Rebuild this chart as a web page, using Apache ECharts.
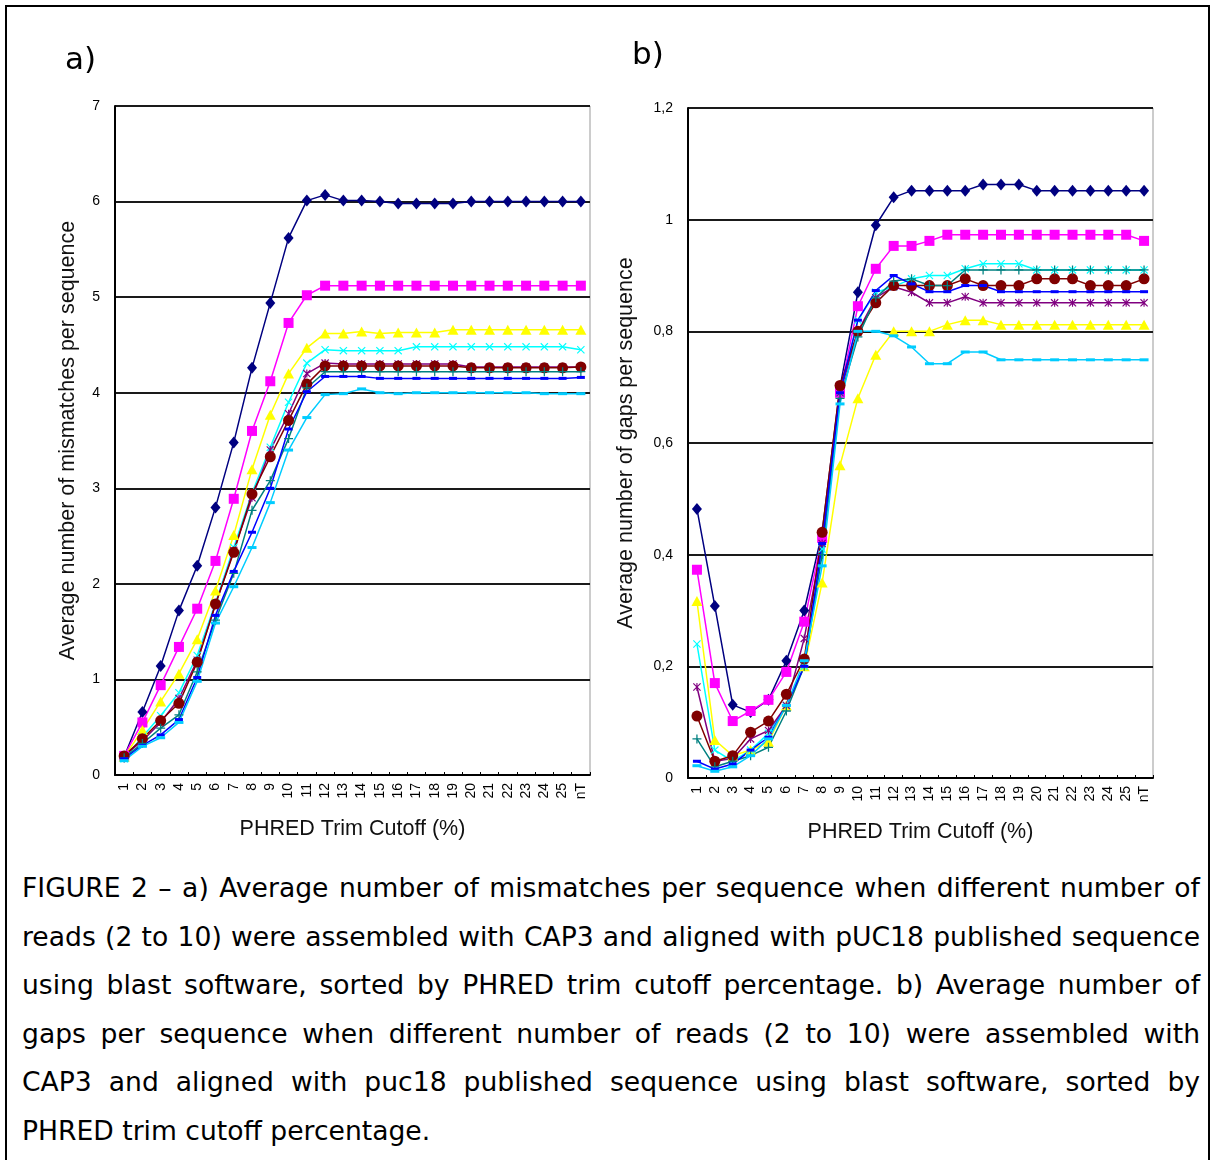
<!DOCTYPE html>
<html>
<head>
<meta charset="utf-8">
<script src="https://cdn.jsdelivr.net/npm/echarts@6/dist/echarts.min.js"></script>
<style>
  html, body { margin: 0; padding: 0; background: #fff; }
  #frame { position: absolute; left: 5px; top: 5px; width: 1201px; height: 1200px; border: 2px solid #000; }
  #chart { position: absolute; left: 0; top: 0; width: 1211px; height: 860px; }
  #caption { position: absolute; left: 22px; top: 864px; width: 1178px;
             font-family: "DejaVu Sans", Verdana, sans-serif; font-size: 26.6px; color: #000; }
  #caption .ln { height: 48.5px; line-height: 48.5px; white-space: nowrap;
                 text-align: justify; text-align-last: justify; }
  #caption .ln.last { text-align: left; text-align-last: left; }
</style>
</head>
<body>
<div id="frame"></div>
<div id="chart"></div>
<div id="caption">
  <div class="ln">FIGURE 2 – a) Average number of mismatches per sequence when different number of</div>
  <div class="ln">reads (2 to 10) were assembled with CAP3 and aligned with pUC18 published sequence</div>
  <div class="ln">using blast software, sorted by PHRED trim cutoff percentage. b) Average number of</div>
  <div class="ln">gaps per sequence when different number of reads (2 to 10) were assembled with</div>
  <div class="ln">CAP3 and aligned with puc18 published sequence using blast software, sorted by</div>
  <div class="ln last">PHRED trim cutoff percentage.</div>
</div>
<script>
// PHRED trim cutoff categories
const cutoffs = ['1','2','3','4','5','6','7','8','9','10','11','12','13','14','15','16','17','18','19','20','21','22','23','24','25','nT'];

// a) average mismatches per sequence, one series per read count
const mismA1 = [0.19,0.66,1.14,1.72,2.19,2.80,3.48,4.26,4.94,5.62,6.01,6.07,6.01,6.01,6.00,5.98,5.98,5.98,5.98,6.00,6.00,6.00,6.00,6.00,6.00,6.00];
const mismA2 = [0.20,0.55,0.94,1.34,1.74,2.24,2.89,3.60,4.12,4.73,5.02,5.12,5.12,5.12,5.12,5.12,5.12,5.12,5.12,5.12,5.12,5.12,5.12,5.12,5.12,5.12];
const mismA3 = [0.19,0.47,0.77,1.06,1.42,1.93,2.51,3.20,3.77,4.20,4.47,4.62,4.62,4.64,4.62,4.63,4.63,4.63,4.66,4.66,4.66,4.66,4.66,4.66,4.66,4.66];
const mismA4 = [0.17,0.40,0.62,0.86,1.25,1.80,2.38,2.95,3.43,3.90,4.31,4.45,4.44,4.44,4.44,4.44,4.48,4.48,4.48,4.48,4.48,4.48,4.48,4.48,4.48,4.45];
const mismA5 = [0.20,0.36,0.55,0.80,1.20,1.78,2.35,2.90,3.40,3.78,4.20,4.31,4.30,4.30,4.30,4.30,4.30,4.30,4.30,4.27,4.27,4.27,4.27,4.27,4.27,4.27];
const mismA6 = [0.20,0.38,0.57,0.75,1.18,1.79,2.33,2.94,3.33,3.71,4.09,4.28,4.28,4.28,4.28,4.28,4.28,4.28,4.28,4.26,4.26,4.26,4.26,4.26,4.26,4.27];
const mismA7 = [0.18,0.33,0.49,0.63,1.08,1.62,2.11,2.77,3.08,3.52,4.05,4.22,4.22,4.22,4.22,4.22,4.22,4.22,4.22,4.22,4.22,4.22,4.22,4.22,4.22,4.22];
const mismA8 = [0.17,0.31,0.42,0.58,1.02,1.67,2.13,2.54,3.00,3.62,4.01,4.17,4.17,4.17,4.15,4.15,4.15,4.15,4.15,4.15,4.15,4.15,4.15,4.15,4.15,4.16];
const mismA9 = [0.15,0.30,0.39,0.55,0.98,1.59,1.97,2.38,2.85,3.40,3.74,3.98,3.99,4.04,4.00,3.99,4.00,4.00,4.00,4.00,4.00,4.00,4.00,3.99,3.99,3.99];

// b) average gaps per sequence
const gapsB1 = [0.482,0.308,0.131,0.118,0.140,0.210,0.300,0.440,0.700,0.870,0.990,1.040,1.052,1.052,1.052,1.052,1.063,1.063,1.063,1.052,1.052,1.052,1.052,1.052,1.052,1.052];
const gapsB2 = [0.373,0.170,0.102,0.120,0.140,0.190,0.280,0.430,0.690,0.845,0.912,0.953,0.953,0.962,0.973,0.973,0.973,0.973,0.973,0.973,0.973,0.973,0.973,0.973,0.973,0.962];
const gapsB3 = [0.317,0.068,0.040,0.050,0.065,0.130,0.200,0.350,0.560,0.680,0.758,0.800,0.800,0.800,0.812,0.820,0.820,0.812,0.812,0.812,0.812,0.812,0.812,0.812,0.812,0.812];
const gapsB4 = [0.240,0.050,0.030,0.050,0.080,0.130,0.200,0.410,0.690,0.820,0.870,0.880,0.894,0.900,0.900,0.912,0.921,0.921,0.921,0.910,0.910,0.910,0.910,0.910,0.910,0.910];
const gapsB5 = [0.163,0.030,0.035,0.070,0.085,0.130,0.250,0.420,0.690,0.800,0.860,0.880,0.870,0.851,0.851,0.862,0.851,0.851,0.851,0.851,0.851,0.851,0.851,0.851,0.851,0.851];
const gapsB6 = [0.111,0.030,0.040,0.082,0.102,0.150,0.213,0.440,0.703,0.800,0.851,0.882,0.882,0.882,0.882,0.894,0.882,0.882,0.882,0.894,0.894,0.894,0.882,0.882,0.882,0.894];
const gapsB7 = [0.070,0.020,0.030,0.040,0.055,0.120,0.200,0.400,0.680,0.790,0.860,0.890,0.894,0.882,0.882,0.910,0.910,0.910,0.910,0.910,0.910,0.910,0.910,0.910,0.910,0.910];
const gapsB8 = [0.030,0.016,0.025,0.050,0.073,0.130,0.200,0.420,0.690,0.820,0.873,0.900,0.885,0.871,0.871,0.882,0.882,0.871,0.871,0.871,0.871,0.871,0.871,0.871,0.871,0.871];
const gapsB9 = [0.022,0.012,0.020,0.040,0.070,0.130,0.210,0.380,0.670,0.800,0.800,0.792,0.772,0.742,0.742,0.763,0.763,0.749,0.749,0.749,0.749,0.749,0.749,0.749,0.749,0.749];

// marker shapes
const SYM_X = 'path://M0,1L1,0L5,4L9,0L10,1L6,5L10,9L9,10L5,6L1,10L0,9L4,5Z';
const SYM_STAR = 'path://M0,1L1,0L5,4L9,0L10,1L6,5L10,9L9,10L5,6L1,10L0,9L4,5Z M4.3,0H5.7V10H4.3Z';
const SYM_PLUS = 'path://M4.3,0H5.7V4.3H10V5.7H5.7V10H4.3V5.7H0V4.3H4.3Z';

const styles = [
  { color: '#000080', symbol: 'diamond',  size: [10, 12] },
  { color: '#FF00FF', symbol: 'rect',     size: [10, 10] },
  { color: '#FFFF00', symbol: 'triangle', size: [11, 10] },
  { color: '#00FFFF', symbol: SYM_X,      size: [8, 8] },
  { color: '#800080', symbol: SYM_STAR,   size: [8, 8] },
  { color: '#800000', symbol: 'circle',   size: [11, 11] },
  { color: '#008080', symbol: SYM_PLUS,   size: [9, 9] },
  { color: '#0000FF', symbol: 'rect',     size: [8, 3] },
  { color: '#00CCFF', symbol: 'rect',     size: [9, 3] }
];

const seriesA = [mismA1, mismA2, mismA3, mismA4, mismA5, mismA6, mismA7, mismA8, mismA9];
const seriesB = [gapsB1, gapsB2, gapsB3, gapsB4, gapsB5, gapsB6, gapsB7, gapsB8, gapsB9];

const tickFont = { fontFamily: 'Liberation Sans, Arial, sans-serif', fontSize: 14, color: '#000' };
const nameFont = { fontFamily: 'Liberation Sans, Arial, sans-serif', fontSize: 21.5, color: '#111' };

function xAxisFor(gridIndex) {
  return {
    type: 'category', gridIndex, data: cutoffs, boundaryGap: true,
    axisLine: { lineStyle: { color: '#000', width: 2 } },
    axisTick: { show: true, inside: true, length: 3, lineStyle: { color: '#000', width: 1 } },
    axisLabel: Object.assign({ rotate: 90, interval: 0, margin: 8 }, tickFont),
    name: 'PHRED Trim Cutoff (%)', nameLocation: 'middle', nameGap: 43, nameTextStyle: nameFont
  };
}

function yAxisFor(gridIndex, max, interval, fmt, title, gap) {
  return {
    type: 'value', gridIndex, min: 0, max, interval,
    axisLine: { show: true, lineStyle: { color: '#000', width: 2 } },
    axisTick: { show: false },
    axisLabel: Object.assign({ margin: 15, formatter: fmt }, tickFont),
    splitLine: { show: true, lineStyle: { color: '#1a1a1a', width: 2 } },
    name: title, nameLocation: 'middle', nameGap: gap, nameTextStyle: nameFont
  };
}

function buildSeries(list, axisIndex) {
  return list.map((vals, i) => ({
    type: 'line', xAxisIndex: axisIndex, yAxisIndex: axisIndex,
    data: vals, symbol: styles[i].symbol, symbolSize: styles[i].size,
    showAllSymbol: true, animation: false,
    lineStyle: { color: styles[i].color, width: 1.5 },
    itemStyle: { color: styles[i].color }
  }));
}

const panelTitle = { fontFamily: 'DejaVu Sans, Verdana, sans-serif', fontSize: 31, fontWeight: 'normal', color: '#000' };

const chart = echarts.init(document.getElementById('chart'), null, { renderer: 'canvas' });
chart.setOption({
  backgroundColor: 'transparent',
  animation: false,
  title: [
    { text: 'a)', left: 60, top: 40, textStyle: panelTitle },
    { text: 'b)', left: 627, top: 35, textStyle: panelTitle }
  ],
  grid: [
    { left: 115, top: 106, width: 475, height: 669, show: true, borderColor: '#999', borderWidth: 1, backgroundColor: '#fff' },
    { left: 688, top: 108, width: 465, height: 670, show: true, borderColor: '#999', borderWidth: 1, backgroundColor: '#fff' }
  ],
  xAxis: [xAxisFor(0), xAxisFor(1)],
  yAxis: [
    yAxisFor(0, 7, 1, v => String(v), 'Average number of mismatches per sequence', 36),
    yAxisFor(1, 1.2, 0.2, v => String(+v.toFixed(1)).replace('.', ','), 'Average number of gaps per sequence', 51)
  ],
  series: buildSeries(seriesA, 0).concat(buildSeries(seriesB, 1))
});
</script>
</body>
</html>
